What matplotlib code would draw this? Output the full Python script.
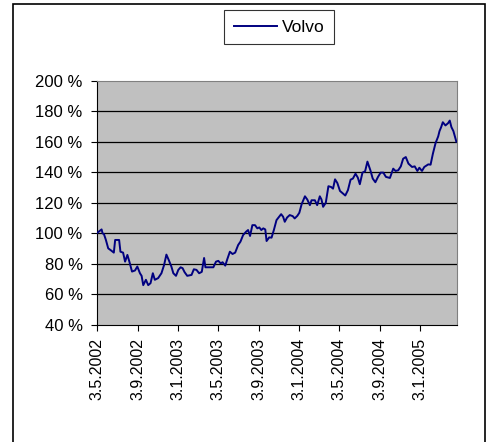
import matplotlib
matplotlib.use("Agg")
import matplotlib.pyplot as plt
from matplotlib.patches import Rectangle
import pandas as pd

plt.rcParams['font.family'] = ['Liberation Sans', 'DejaVu Sans']

series_name = "Volvo"
start_date = "2002-05-03"
# day offsets from start date
day_offsets = [0, 8, 13, 16, 20, 26, 33, 40, 50, 54, 66, 70, 78, 84, 91, 97, 105, 114,
               121, 129, 134, 139, 147, 154, 161, 168, 174, 184, 194, 202, 209, 216,
               224, 230, 238, 245, 252, 258, 264, 272, 285, 292, 300, 308, 316, 323,
               327, 351, 359, 366, 373, 379, 387, 393, 401, 409, 417, 426, 433, 441,
               450, 456, 462, 469, 477, 484, 490, 496, 502, 508, 512, 520, 527, 534,
               542, 548, 556, 562, 567, 574, 582, 591, 597, 605, 611, 618, 628, 635,
               643, 648, 658, 665, 673, 678, 683, 691, 699, 707, 713, 719, 726, 734,
               743, 750, 758, 766, 773, 781, 788, 794, 802, 810, 817, 826, 833, 841,
               849, 857, 865, 873, 885, 895, 902, 910, 918, 925, 933, 941, 952, 960,
               968, 974, 982, 989, 1001, 1008, 1015, 1023, 1031, 1035, 1040, 1045,
               1053, 1061, 1066, 1071, 1077, 1086]
values = [100.4, 101.7, 102.6, 100.0, 99.6, 95.7, 90.2, 89.1, 87.4, 95.7, 95.7, 88.0,
          87.4, 81.5, 85.9, 81.5, 75.0, 75.7, 78.3, 73.9, 72.2, 66.1, 69.6, 66.1, 67.4,
          73.9, 69.6, 70.7, 73.9, 79.3, 86.1, 82.6, 78.3, 73.9, 72.2, 76.1, 77.8, 77.2,
          74.6, 72.2, 72.8, 76.5, 76.1, 73.9, 74.8, 83.9, 77.8, 77.8, 81.5, 82.0, 80.4,
          81.1, 78.9, 83.0, 88.0, 86.5, 87.4, 92.4, 94.6, 98.9, 101.1, 102.2, 98.3,
          105.4, 105.4, 103.3, 103.9, 102.2, 103.3, 102.6, 95.0, 97.4, 97.2, 102.2,
          108.7, 110.4, 112.6, 110.9, 107.6, 110.4, 112.0, 111.3, 109.8, 111.5, 113.5,
          119.1, 124.3, 122.2, 118.5, 121.7, 121.7, 118.5, 124.3, 122.2, 117.4, 120.0,
          130.9, 130.4, 129.3, 135.4, 133.0, 127.8, 126.1, 124.8, 128.3, 135.2, 135.9,
          139.1, 136.5, 132.2, 139.8, 140.7, 147.0, 141.3, 135.9, 133.5, 137.0, 139.8,
          139.8, 137.0, 136.3, 142.4, 140.9, 141.3, 143.9, 148.9, 150.0, 145.7, 143.5,
          143.9, 140.9, 143.0, 140.9, 143.5, 145.2, 145.0, 152.2, 159.1, 163.5, 167.0,
          169.6, 172.8, 170.7, 172.2, 173.9, 169.6, 167.0, 160.0, 165.2]
tick_dates = ["2002-05-03", "2002-09-03", "2003-01-03", "2003-05-03", "2003-09-03",
              "2004-01-03", "2004-05-03", "2004-09-03", "2005-01-03"]
tick_labels = ["3.5.2002", "3.9.2002", "3.1.2003", "3.5.2003", "3.9.2003",
               "3.1.2004", "3.5.2004", "3.9.2004", "3.1.2005"]
y_ticks = [40, 60, 80, 100, 120, 140, 160, 180, 200]

n = min(len(day_offsets), len(values))
start = pd.to_datetime(start_date)
dates = start + pd.to_timedelta(day_offsets[:n], unit="D")

fig = plt.figure(figsize=(4.92, 4.42), dpi=100)
fig.patch.set_facecolor("white")
ax = fig.add_axes([97.3 / 492, 1 - 325 / 442, (456.7 - 97.3) / 492, (325 - 80.7) / 442])
ax.set_facecolor("#c0c0c0")

ax.plot(dates, values[:n], color="#000080", lw=1.4, label=series_name, zorder=3)

ax.set_ylim(40, 200)
ax.set_yticks(y_ticks)
ax.set_yticklabels([f"{v} %" for v in y_ticks], fontsize=12)
for v in y_ticks[1:-1]:
    ax.axhline(v, color="black", lw=0.9, zorder=1)

ax.set_xlim(start, start + pd.Timedelta(days=1087))
ax.set_xticks(pd.to_datetime(tick_dates))
ax.set_xticklabels(tick_labels, rotation=90, fontsize=11.5)

for side in ["top", "right"]:
    ax.spines[side].set_color("#808080")
for side in ["left", "bottom"]:
    ax.spines[side].set_color("black")
ax.tick_params(axis="both", direction="out", length=4, width=0.8, colors="black")
ax.tick_params(axis="y", pad=6.5)
ax.tick_params(axis="x", pad=5)

leg = fig.legend(loc="upper left", bbox_to_anchor=(224 / 492, 1 - 10 / 442),
                 frameon=True, fancybox=False, edgecolor="black", fontsize=12.5,
                 handlelength=2.5, borderpad=0.55, handletextpad=0.3, borderaxespad=0)
leg.get_frame().set_linewidth(0.8)

fig.patches.append(Rectangle((13 / 492, -0.05), (485 - 13) / 492, 1.05 - 4 / 442,
                             transform=fig.transFigure, fill=False,
                             edgecolor="black", lw=1.2))

fig.savefig("out.png", dpi=100)
